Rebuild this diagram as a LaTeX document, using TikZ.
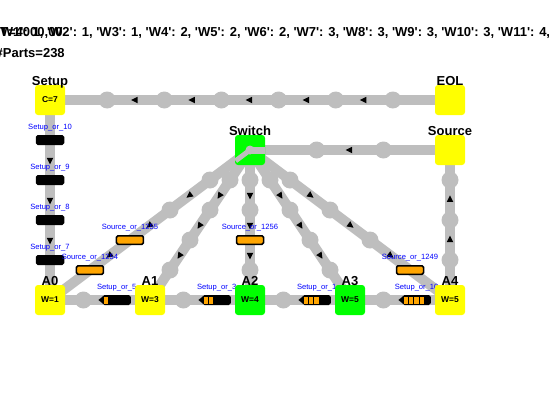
\documentclass[tikz,border=0pt]{standalone}
\usepackage{fontspec}
\setmainfont{Liberation Sans}
\usetikzlibrary{shapes.geometric,calc}

\pgfdeclarelayer{background}
\pgfsetlayers{background,main}

\definecolor{beltgray}{RGB}{190,190,190}
\definecolor{stationyellow}{RGB}{255,255,0}
\definecolor{stationgreen}{RGB}{0,255,0}
\definecolor{bufferorange}{RGB}{255,165,0}

\newcommand{\q}{\textquotesingle}

\tikzset{
  station/.style={fill=#1, rounded corners=3pt, minimum width=30pt, minimum height=30pt, inner sep=0pt, font=\fontsize{8.5}{10}\selectfont\bfseries},
  stationname/.style={font=\fontsize{13}{15}\selectfont\bfseries, anchor=base, inner sep=0pt, label distance=-1pt},
  belt/.style={line width=10pt, draw=beltgray},
  slot/.style={circle, fill=beltgray, minimum size=17pt, inner sep=0pt},
  flowtip/.style={isosceles triangle, isosceles triangle stretches, fill=black, inner sep=0pt, minimum width=6.5pt, minimum height=6.5pt, sloped, allow upside down},
  queue/.style={fill=#1, draw=black, line width=1.5pt, rounded corners=1.5pt, minimum width=27pt, minimum height=8.5pt, inner sep=0pt},
  buffername/.style={font=\fontsize{7.6}{9}\selectfont, text=blue, anchor=base, inner sep=0pt, label distance=5.3pt},
  infotext/.style={font=\fontsize{13}{15}\selectfont\bfseries, inner sep=0pt, anchor=base west},
}

\begin{document}
\begin{tikzpicture}[x=1pt,y=-1pt]
\useasboundingbox (0,0) rectangle (550,400);
\clip (0,0) rectangle (550,400);

% header
\node[infotext] (clock) at (0,36) {T=4000,00};
\node[infotext] (wip) at (50,36) {\llap{\{\q W1\q: 1, \q}W2\q: 1, \q W3\q: 1, \q W4\q: 2, \q W5\q: 2, \q W6\q: 2, \q W7\q: 3, \q W8\q: 3, \q W9\q: 3, \q W10\q: 3, \q W11\q: 4, \q W12\q: 4};
\node[infotext] (parts) at (-4.5,57) {\#Parts=238};

% stations
\node[station=stationyellow, label={[stationname]90:Setup}] (setup) at (50,100) {C=7};
\node[station=stationyellow, label={[stationname]90:EOL}] (eol) at (450,100) {};
\node[station=stationyellow, label={[stationname]90:Source}] (source) at (450,150) {};
\node[station=stationgreen, label={[stationname]90:Switch}] (switch) at (250,150) {};
\node[station=stationyellow, label={[stationname]90:A0}] (a0) at (50,300) {W=1};
\node[station=stationyellow, label={[stationname]90:A1}] (a1) at (150,300) {W=3};
\node[station=stationgreen, label={[stationname]90:A2}] (a2) at (250,300) {W=4};
\node[station=stationgreen, label={[stationname]90:A3}] (a3) at (350,300) {W=5};
\node[station=stationyellow, label={[stationname]90:A4}] (a4) at (450,300) {W=5};

% switch position
\draw[beltgray, line width=7pt] (switch.center) -- (switch.east);
\draw[beltgray, line width=5pt] (switch.center) -- ($(switch.center)!18pt!(a0.center)$);
\fill[beltgray] (switch.center) circle[radius=4.5pt];

\begin{pgfonlayer}{background}
% belts
\draw[belt] (eol.center) -- (setup.center);
\draw[belt] (source.center) -- (switch.center);
\draw[belt] (a4.center) -- (source.center);
\draw[belt] (setup.center) -- (a0.center);
\foreach \k in {0,...,4} \draw[belt] (switch.center) -- (a\k.center);
\draw[belt] (a1.center) -- (a0.center);
\draw[belt] (a2.center) -- (a1.center);
\draw[belt] (a3.center) -- (a2.center);
\draw[belt] (a4.center) -- (a3.center);

% slots
\foreach \i in {1,...,6} \node[slot] (tops\i) at ($(eol.center)!\i/7!(setup.center)$) {};
\foreach \i in {1,2} \node[slot] (srcs\i) at ($(source.center)!\i/3!(switch.center)$) {};
\foreach \i/\p in {1/.267,2/.533,3/.8} \node[slot] (rets\i) at ($(a4.center)!\p!(source.center)$) {};
\foreach \i/\p in {1/.2,2/.4} \node[slot] (s0\i) at ($(switch.center)!\p!(a0.center)$) {};
\foreach \i/\p in {1/.2,2/.4,3/.6,4/.8} \node[slot] (s1\i) at ($(switch.center)!\p!(a1.center)$) {};
\foreach \i/\p in {1/.2,2/.4,4/.8} \node[slot] (s2\i) at ($(switch.center)!\p!(a2.center)$) {};
\foreach \i/\p in {1/.2,2/.4,3/.6,4/.8} \node[slot] (s3\i) at ($(switch.center)!\p!(a3.center)$) {};
\foreach \i/\p in {1/.2,2/.4,3/.6} \node[slot] (s4\i) at ($(switch.center)!\p!(a4.center)$) {};
\node[slot] (bot1) at ($(a1.center)!2/3!(a0.center)$) {};
\node[slot] (bot2) at ($(a2.center)!2/3!(a1.center)$) {};
\node[slot] (bot3) at ($(a3.center)!2/3!(a2.center)$) {};
\node[slot] (bot4) at ($(a4.center)!2/3!(a3.center)$) {};

% direction tips
\path (eol.center) -- (setup.center) node[flowtip,pos=.214](topt1){} node[flowtip,pos=.357](topt2){} node[flowtip,pos=.5](topt3){} node[flowtip,pos=.643](topt4){} node[flowtip,pos=.786](topt5){};
\path (source.center) -- (switch.center) node[flowtip,pos=.5](srct1){};
\path (a4.center) -- (source.center) node[flowtip,pos=.4](rett1){} node[flowtip,pos=.667](rett2){};
\path (setup.center) -- (a0.center) node[flowtip,pos=.3](sett1){} node[flowtip,pos=.5](sett2){} node[flowtip,pos=.7](sett3){};
\foreach \k in {0,...,4}
  \path (switch.center) -- (a\k.center) node[flowtip,pos=.3](t\k a){} node[flowtip,pos=.5](t\k b){} node[flowtip,pos=.7](t\k c){};

% buffers
\node[queue=black, label={[buffername]90:Setup\_or\_10}] (q10) at ($(setup.center)!.2!(a0.center)$) {};
\node[queue=black, label={[buffername]90:Setup\_or\_9}] (q9) at ($(setup.center)!.4!(a0.center)$) {};
\node[queue=black, label={[buffername]90:Setup\_or\_8}] (q8) at ($(setup.center)!.6!(a0.center)$) {};
\node[queue=black, label={[buffername]90:Setup\_or\_7}] (q7) at ($(setup.center)!.8!(a0.center)$) {};
\node[queue=bufferorange, label={[buffername]90:Source\_or\_1255}] (q1255) at ($(switch.center)!.6!(a0.center)$) {};
\node[queue=bufferorange, label={[buffername]90:Source\_or\_1254}] (q1254) at ($(switch.center)!.8!(a0.center)$) {};
\node[queue=bufferorange, label={[buffername]90:Source\_or\_1256}] (q1256) at ($(switch.center)!.6!(a2.center)$) {};
\node[queue=bufferorange, label={[buffername]90:Source\_or\_1249}] (q1249) at ($(switch.center)!.8!(a4.center)$) {};

\node[queue=black, label={[buffername]90:Setup\_or\_5}] (q5) at ($(a1.center)!1/3!(a0.center)$) {};
\node[queue=black, label={[buffername]90:Setup\_or\_3}] (q3) at ($(a2.center)!1/3!(a1.center)$) {};
\node[queue=black, label={[buffername]90:Setup\_or\_1}] (q1) at ($(a3.center)!1/3!(a2.center)$) {};
\node[queue=black, label={[buffername]90:Setup\_or\_10}] (q0) at ($(a4.center)!1/3!(a3.center)$) {};
\foreach \b/\n in {q5/1,q3/2,q1/3,q0/4}{
  \fill ($(\b.west)+(-4pt,0pt)$) -- ++(5pt,4pt) -- ++(0pt,-8pt) -- cycle;
  \foreach \c in {1,...,\n}
    \fill[bufferorange] ($(\b.west)+({1.2pt+(\c-1)*5.4pt},-3.5pt)$) rectangle ++(4.2pt,7pt);
}
\end{pgfonlayer}
\end{tikzpicture}
\end{document}
